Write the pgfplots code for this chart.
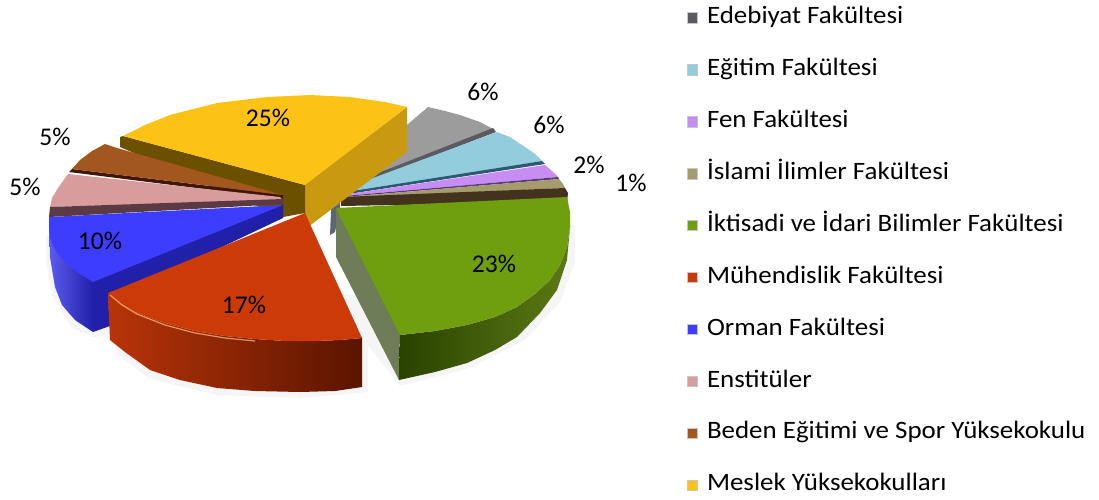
\documentclass[border=0pt]{standalone}
\usepackage{pgfplots}
\pgfplotsset{compat=1.18}
\usepackage{fontspec}
\setmainfont{Carlito}
\newfontfamily\legfont[FakeStretch=1.078]{Carlito}
\definecolor{cGrey}{HTML}{9C9C9C}\definecolor{cGreyS}{HTML}{5A5A60}\definecolor{cGreyV}{HTML}{5C6478}
\definecolor{cBlue}{HTML}{93CDDD}\definecolor{cBlueS}{HTML}{2C5A72}
\definecolor{cPur}{HTML}{C78DF2}\definecolor{cPurS}{HTML}{5A3A80}
\definecolor{cTan}{HTML}{A59C6C}\definecolor{cTanS}{HTML}{42321E}
\definecolor{cGrn}{HTML}{6F9E0E}\definecolor{cGrnC}{HTML}{6E7D58}\definecolor{cGrnD}{HTML}{2A4200}\definecolor{cGrnL}{HTML}{5C7A14}\definecolor{cGrnM}{HTML}{2E4602}
\definecolor{cRed}{HTML}{CC3A08}\definecolor{cRedL}{HTML}{B83408}\definecolor{cRedM}{HTML}{8F2800}\definecolor{cRedD}{HTML}{5A1400}
\definecolor{cOrm}{HTML}{3D3DFF}\definecolor{cOrmS}{HTML}{2020A8}\definecolor{cOrmL}{HTML}{5C5CF0}
\definecolor{cPink}{HTML}{D99C9C}\definecolor{cPinkS}{HTML}{5C3A44}
\definecolor{cBrn}{HTML}{A2571F}\definecolor{cBrnS}{HTML}{40160A}
\definecolor{cYel}{HTML}{FDC216}\definecolor{cYelS}{HTML}{6B5000}\definecolor{cYelG}{HTML}{C9990F}
\pgfplotsset{f/.style={forget plot,draw=none,fill=#1},
  leg/.style={only marks,mark=square*,mark size=5.2pt,mark options={fill=#1,draw=gray!45,line width=1pt}}}
\begin{document}
\begin{tikzpicture}
\useasboundingbox (0,0) rectangle (1099pt,499pt);
\begin{axis}[
  at={(0,0)},anchor=south west,
  scale only axis,width=1099pt,height=499pt,
  xmin=0,xmax=1099,ymin=0,ymax=499,y dir=reverse,
  hide axis,clip=false,
  legend cell align=left,
  legend image code/.code={\node[draw=none,fill=none,inner sep=0pt,minimum width=20pt,minimum height=1pt,anchor=west] at (0pt,0pt) {};\draw[#1] plot coordinates {(5.5pt,0.5pt)};},
  legend style={at={(axis cs:687,7.5)},anchor=north west,draw=none,fill=none,
    font=\legfont\fontsize{25}{29}\selectfont,inner sep=0pt,outer sep=0pt,row sep=29.93pt,
    nodes={text height=16pt,text depth=6pt,inner sep=0pt,outer xsep=0pt}},
]
% soft shadows
\addplot[f=black!4] coordinates {(46,235)(46,262)(52,295)(72,328)(93,337)(112,335)(118,355)(150,379)(217,395)(300,398)(368,392)(368,345)(400,386)(470,368)(525,340)(560,302)(575,262)(575,225)(570,225)(400,300)(200,280)} --cycle;
% Edebiyat
\addplot[f=cGreyV] coordinates {(332,188)(340,192)(340,208)(335,232)(330,235)} --cycle;
\addplot[f=cGrey] coordinates {(333,188)(428,107)(445,111)(460,115)(480,122)(495,130)(336,190)} --cycle;
\addplot[f=cGreyS] coordinates {(335,190)(493,128)(496,132)(338,193)} --cycle;
% Egitim
\addplot[f=cBlue] coordinates {(338,191)(497,132)(510,137)(525,147)(535,154)(542,161)(340,194)} --cycle;
\addplot[f=cBlueS] coordinates {(340,193)(542,161)(545,164)(342,195)} --cycle;
% Fen
\addplot[f=cPur] coordinates {(342,195)(545,165)(552,171)(558,177)(344,196)} --cycle;
\addplot[f=cPurS] coordinates {(344,196)(558,177)(559,179)(344,197)} --cycle;
% Islami
\addplot[f=cTan] coordinates {(344,197)(559,179)(563,184)(565,188)(344,198)} --cycle;
\addplot[f=cTanS] coordinates {(341,197)(565,188)(568,193)(567,202)(341,206)} --cycle;
% Meslek
\addplot[f=cYelG] coordinates {(304,185)(407,107)(407,152)(308,227)(304,225)} --cycle;
\addplot[f=cYelS] coordinates {(120,137)(120,147)(283,217)(305,213)(305,185)(123,136)} --cycle;
\addplot[f=cYel] coordinates {(123,136)(145,125)(170,115)(217,103)(267,97)(310,95)(350,97)(385,102)(407,107)(305,185)} --cycle;
% Beden
\addplot[f=cBrnS] coordinates {(69,172)(72,169)(283,195)(283,199)} --cycle;
\addplot[f=cBrn] coordinates {(105,144)(117,148)(283,195)(72,169)(80,160)(92,151)} --cycle;
% Enstituler
\addplot[f=cPink] coordinates {(68,174)(280,197)(283,200)(50,207)(52,198)(58,188)} --cycle;
\addplot[f=cPinkS] coordinates {(50,207)(283,199)(283,204)(49,217)} --cycle;
% Orman
\addplot[forget plot,draw=none,left color=cOrmL,right color=cOrmS] coordinates {(49,217)(49,228)(50,237)(57,252)(67,263)(80,273)(93,281)(93,332)(75,320)(62,305)(55,287)(50,257)} --cycle;
\addplot[f=cOrmS] coordinates {(92,281)(283,204)(283,218)(110,300)(110,326)(93,332)} --cycle;
\addplot[f=cOrm] coordinates {(49,217)(283,205)(93,282)(80,274)(67,264)(57,253)(50,238)(49,228)} --cycle;
% Muhendislik
\addplot[forget plot,draw=none,left color=cRedL,middle color=cRedM,right color=cRedD] coordinates {(108,293)(120,303)(135,312)(165,323)(195,331)(225,336)(255,339)(285,341)(315,341)(340,340)(362,338)(362,387)(335,391)(300,392)(255,391)(217,388)(180,380)(150,370)(125,352)(110,340)} --cycle;
\addplot[f=cRed] coordinates {(305,213)(362,338)(340,340)(315,341)(285,341)(255,339)(225,336)(195,331)(165,323)(135,312)(120,303)(108,293)} --cycle;
\addplot[forget plot,color=orange!45!white,line width=1.2pt,opacity=0.7] coordinates {(110,295)(122,305)(137,314)(165,325)(195,333)(225,338)(255,341)};
% Iktisadi
\addplot[f=cGrnC] coordinates {(336,208)(400,331)(399,380)(336,257)} --cycle;
\addplot[forget plot,draw=none,left color=cGrnD,middle color=cGrnM,right color=cGrnL] coordinates {(400,335)(435,331)(467,325)(495,317)(517,307)(535,294)(550,280)(560,265)(567,247)(570,227)(567,260)(557,290)(540,313)(517,337)(495,350)(467,363)(435,372)(399,380)} --cycle;
\addplot[f=cGrn] coordinates {(336,208)(567,197)(570,212)(570,227)(567,247)(560,265)(550,280)(535,294)(517,307)(495,317)(467,325)(435,331)(400,335)} --cycle;
% value labels
\begin{scope}[every node/.style={font=\fontsize{25.5}{29}\selectfont,inner sep=0pt,text=black}]
\node at (axis cs:483,92) {6\%};
\node at (axis cs:549,125) {6\%};
\node at (axis cs:589,165) {2\%};
\node at (axis cs:631,183) {1\%};
\node at (axis cs:494,264) {23\%};
\node at (axis cs:244,305) {17\%};
\node at (axis cs:100,241) {10\%};
\node at (axis cs:25,187) {5\%};
\node at (axis cs:55,137) {5\%};
\node at (axis cs:268,118) {25\%};
\end{scope}
% legend
\addlegendimage{leg=cGreyS}\addlegendentry{Edebiyat Fakültesi}
\addlegendimage{leg=cBlue}\addlegendentry{Eğitim Fakültesi}
\addlegendimage{leg=cPur}\addlegendentry{Fen Fakültesi}
\addlegendimage{leg=cTan}\addlegendentry{İslami İlimler Fakültesi}
\addlegendimage{leg=cGrn}\addlegendentry{İktisadi ve İdari Bilimler Fakültesi}
\addlegendimage{leg=cRed}\addlegendentry{Mühendislik Fakültesi}
\addlegendimage{leg=cOrm}\addlegendentry{Orman Fakültesi}
\addlegendimage{leg=cPink}\addlegendentry{Enstitüler}
\addlegendimage{leg=cBrn}\addlegendentry{Beden Eğitimi ve Spor Yüksekokulu}
\addlegendimage{leg=cYel}\addlegendentry{Meslek Yüksekokulları}
\end{axis}
\end{tikzpicture}
\end{document}
